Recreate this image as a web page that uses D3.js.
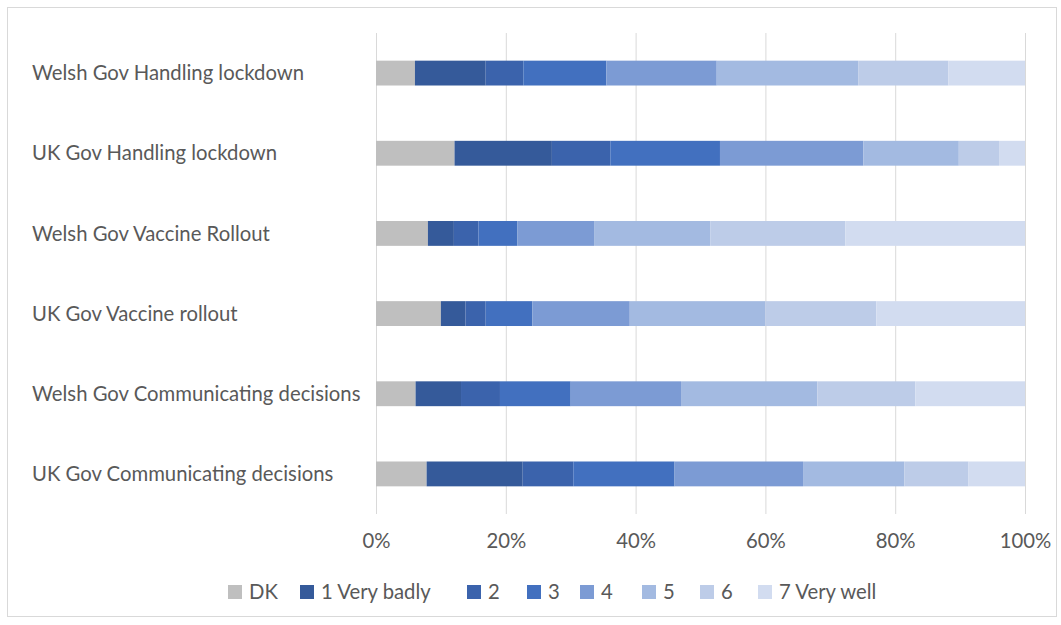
<!DOCTYPE html>
<html><head><meta charset="utf-8">
<script src="https://cdn.jsdelivr.net/npm/d3@7"></script>
<style>body{margin:0;background:#fff;} svg{display:block;} text{font-family:Lato,"Open Sans",sans-serif;fill:#595959;}</style>
</head><body>
<svg id="c" width="1061" height="625"></svg>
<script>
const categories = ["Welsh Gov Handling lockdown","UK Gov Handling lockdown","Welsh Gov Vaccine Rollout","UK Gov Vaccine rollout","Welsh Gov Communicating decisions","UK Gov Communicating decisions"];
const seriesNames = ["DK","1 Very badly","2","3","4","5","6","7 Very well"];
const DK        = [6.0, 12.1, 8.0, 10.0, 6.1, 7.8];
const veryBadly = [10.9, 15.0, 4.0, 3.8, 7.0, 14.8];
const s2        = [5.8, 9.0, 3.8, 3.1, 6.0, 7.8];
const s3        = [12.8, 16.9, 6.0, 7.2, 10.9, 15.6];
const s4        = [17.0, 22.1, 11.8, 15.0, 17.0, 19.8];
const s5        = [21.8, 14.7, 17.9, 20.9, 21.0, 15.6];
const s6        = [13.9, 6.2, 20.8, 17.1, 15.1, 9.9];
const veryWell  = [11.8, 4.0, 27.7, 22.9, 16.9, 8.7];
const tickValues = [0, 20, 40, 60, 80, 100];
const colors = ["#BFBFBF","#355A9A","#3B63AC","#4270BF","#7C9BD4","#A3BAE1","#BDCCE8","#D2DCF0"];

const seriesVals = [DK, veryBadly, s2, s3, s4, s5, s6, veryWell];
const rows = categories.map((c,i)=>{const o={cat:c}; seriesNames.forEach((s,j)=>o[s]=seriesVals[j][i]); return o;});
const stack = d3.stack().keys(seriesNames)(rows);

const svg = d3.select("#c");
svg.append("rect").attr("x",7.5).attr("y",7.5).attr("width",1049).attr("height",609).attr("fill","#fff").attr("stroke","#D9D9D9");

const x = d3.scaleLinear().domain([0,100]).range([376,1025]);
const y = d3.scaleBand().domain(categories).range([33,514]).paddingInner(0.69).paddingOuter(0.345);

// gridlines
svg.append("g").selectAll("line").data(tickValues).join("line")
  .attr("x1",d=>x(d)+0.5).attr("x2",d=>x(d)+0.5).attr("y1",33).attr("y2",514)
  .attr("stroke","#D9D9D9").attr("stroke-width",1);

// bars
svg.append("g").selectAll("g").data(stack).join("g").attr("fill",(d,i)=>colors[i])
  .selectAll("rect").data(d=>d).join("rect")
  .attr("x",d=>x(d[0])).attr("width",d=>x(d[1])-x(d[0]))
  .attr("y",d=>y(d.data.cat)).attr("height",y.bandwidth());

const fs = 20.3;
// category labels
svg.append("g").selectAll("text").data(categories).join("text")
  .attr("x",32).attr("y",d=>y(d)+y.bandwidth()/2).attr("dy","0.35em")
  .style("font-size",fs+"px").text(d=>d);

// x axis
const xa = svg.append("g").attr("transform","translate(0,514)")
  .call(d3.axisBottom(x).tickValues(tickValues).tickFormat(d=>d+"%").tickSize(0).tickPadding(20));
xa.select(".domain").remove();
xa.selectAll("text").style("font-size",fs+"px").attr("font-family",null);

// legend
const legX = [228,300,467,527,580,642,700,758];
const lg = svg.append("g").selectAll("g").data(seriesNames).join("g")
  .attr("transform",(d,i)=>`translate(${legX[i]},585)`);
lg.append("rect").attr("width",14).attr("height",14).attr("fill",(d,i)=>colors[i]);
lg.append("text").attr("x",21).attr("y",7).attr("dy","0.35em").style("font-size",fs+"px").text(d=>d);
</script>
</body></html>
